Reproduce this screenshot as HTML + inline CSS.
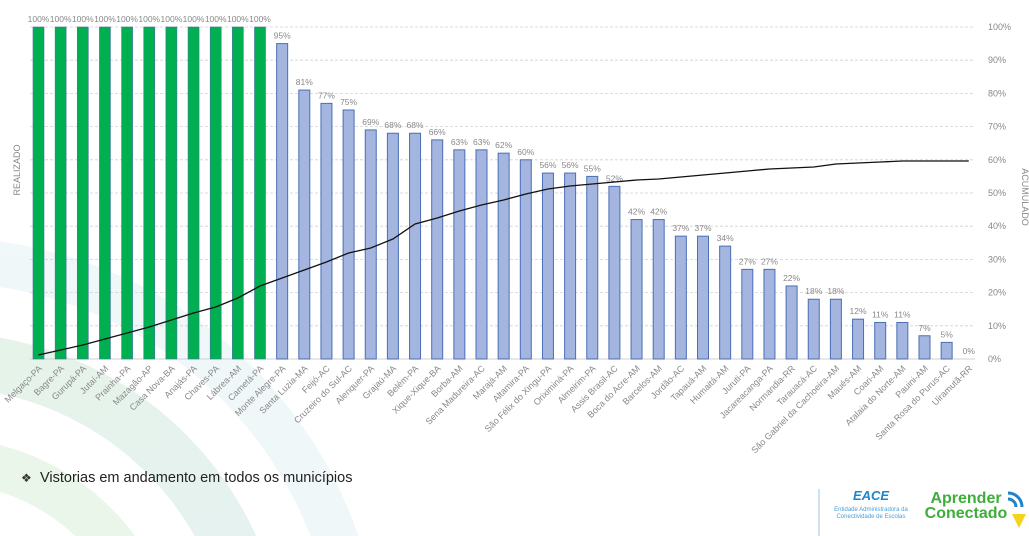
<!DOCTYPE html>
<html><head><meta charset="utf-8"><style>
html,body{margin:0;padding:0;background:#fff;width:1029px;height:536px;overflow:hidden;font-family:"Liberation Sans",sans-serif}
svg{display:block}
</style></head><body>
<svg id="s" width="1029" height="536" xmlns="http://www.w3.org/2000/svg" font-family="Liberation Sans, sans-serif" overflow="hidden">
<defs>
<linearGradient id="g1" x1="0" y1="0" x2="1" y2="1"><stop offset="0" stop-color="#cfe9c9"/><stop offset="1" stop-color="#cde6f0"/></linearGradient>
<clipPath id="cp"><rect x="0" y="0" width="1029" height="536"/></clipPath>
</defs>
<g fill="none" opacity="0.5" clip-path="url(#cp)">
<circle cx="-60" cy="680" r="220" stroke="#d9eed6" stroke-width="45"/>
<circle cx="-60" cy="680" r="320" stroke="url(#g1)" stroke-width="55"/>
<circle cx="-60" cy="680" r="420" stroke="#e3f1f4" stroke-width="45"/>
</g>
<g id="chart"></g>
<text x="20" y="170" font-size="9" fill="#888" transform="rotate(-90 20 170)" text-anchor="middle">REALIZADO</text>
<text x="1022" y="197" font-size="9" fill="#888" transform="rotate(90 1022 197)" text-anchor="middle">ACUMULADO</text>
<text x="21" y="482" font-size="12" fill="#333">❖</text>
<text x="40" y="482" font-size="14.5" fill="#222">Vistorias em andamento em todos os municípios</text>
<line x1="819" y1="489" x2="819" y2="536" stroke="#9cc3e0" stroke-width="1"/>
<text x="871" y="500" font-size="13" font-weight="bold" fill="#1e86c8" text-anchor="middle" font-style="italic">EACE</text>
<text x="871" y="511" font-size="6" fill="#4a9fd6" text-anchor="middle">Entidade Administradora da</text>
<text x="871" y="518" font-size="6" fill="#4a9fd6" text-anchor="middle">Conectividade de Escolas</text>
<text x="966" y="503" font-size="16" font-weight="bold" fill="#3dae3a" text-anchor="middle">Aprender</text>
<text x="966" y="518" font-size="16" font-weight="bold" fill="#3dae3a" text-anchor="middle">Conectado</text>
<path d="M1008 493 a14 14 0 0 1 14 14 M1008 499 a8 8 0 0 1 8 8" stroke="#1e86c8" stroke-width="3" fill="none"/>
<polygon points="1012,514 1026,514 1019,528" fill="#f5d21c"/>
</svg>
<script>
(function(){
var names=["Melgaço-PA","Bagre-PA","Gurupá-PA","Jutaí-AM","Prainha-PA","Mazagão-AP","Casa Nova-BA","Anajás-PA","Chaves-PA","Lábrea-AM","Cametá-PA","Monte Alegre-PA","Santa Luzia-MA","Feijó-AC","Cruzeiro do Sul-AC","Alenquer-PA","Grajaú-MA","Belém-PA","Xique-Xique-BA","Borba-AM","Sena Madureira-AC","Marajá-AM","Altamira-PA","São Félix do Xingu-PA","Oriximiná-PA","Almeirim-PA","Assis Brasil-AC","Boca do Acre-AM","Barcelos-AM","Jordão-AC","Tapauá-AM","Humaitá-AM","Juruti-PA","Jacareacanga-PA","Normandia-RR","Tarauacá-AC","São Gabriel da Cachoeira-AM","Maués-AM","Coari-AM","Atalaia do Norte-AM","Pauini-AM","Santa Rosa do Purus-AC","Uiramutã-RR"];
var v=[100,100,100,100,100,100,100,100,100,100,100,95,81,77,75,69,68,68,66,63,63,62,60,56,56,55,52,42,42,37,37,34,27,27,22,18,18,12,11,11,7,5,0];
var cum=[355,350,345,339,333,327,320,313,307,298,286,278,270,262,253,248,239,224,218,211,205,200,194,189,186,184,182,180,179,177,175,173,171,169,168,167,164,163,162,161,161,161,161];
var y0=359,sc=3.32,x0=33,dx=22.15,bw=11,h='';
for(var p=0;p<=100;p+=10){var y=y0-p*sc;
 if(p>0)h+='<line x1="30" x2="975" y1="'+y+'" y2="'+y+'" stroke="#d0d0d0" stroke-dasharray="3,2" stroke-width="0.8"/>';
 h+='<text x="988" y="'+(y+3)+'" font-size="9" fill="#888">'+p+'%</text>';}
h+='<line x1="30" x2="975" y1="'+y0+'" y2="'+y0+'" stroke="#d0d0d0"/>';
var pts=[];
for(var i=0;i<43;i++){var x=x0+i*dx,yt=y0-v[i]*sc,cx=x+bw/2;
 if(v[i]>0){ if(i<11)h+='<rect x="'+x+'" y="'+yt+'" width="'+bw+'" height="'+(y0-yt)+'" fill="#00b050" stroke="#4472a4" stroke-width="0.6"/>';
 else h+='<rect x="'+x+'" y="'+yt+'" width="'+bw+'" height="'+(y0-yt)+'" fill="#a4b5df" stroke="#4a6fb5" stroke-width="1"/>';}
 h+='<text x="'+cx+'" y="'+(yt-5)+'" font-size="8.5" fill="#888" text-anchor="middle">'+v[i]+'%</text>';
 h+='<text x="'+(cx+4)+'" y="369" font-size="9" fill="#888" text-anchor="end" transform="rotate(-45 '+(cx+4)+' 369)">'+names[i]+'</text>';
 pts.push(cx+','+cum[i]);}
h+='<polyline points="'+pts.join(' ')+'" fill="none" stroke="#111" stroke-width="1.3"/>';
document.getElementById('chart').innerHTML=h;
})();
</script>
</body></html>
